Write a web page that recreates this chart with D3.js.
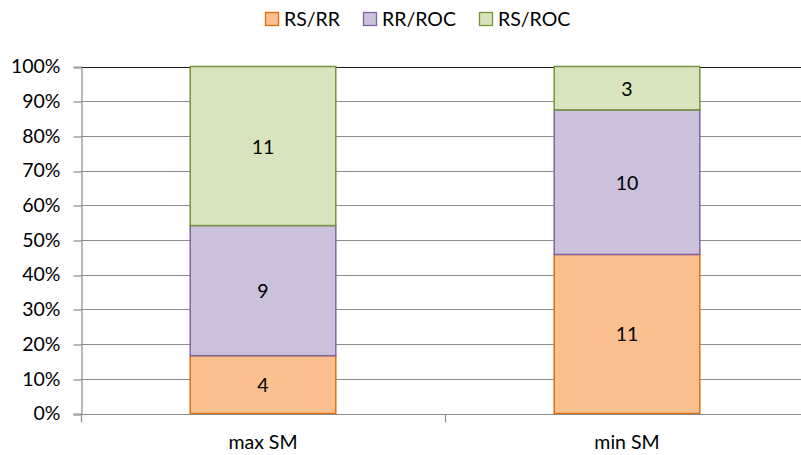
<!DOCTYPE html>
<html>
<head>
<meta charset="utf-8">
<script src="https://cdn.jsdelivr.net/npm/d3@7"></script>
<style>
  body { margin: 0; background: #fff; }
  svg { display: block; font-family: Lato, "Open Sans", sans-serif; }
</style>
</head>
<body>
<div id="chart"></div>
<script>
// data
const categories = ["max SM", "min SM"];
const seriesNames = ["RS/RR", "RR/ROC", "RS/ROC"];
const rsRR  = [4, 11];
const rrROC = [9, 10];
const rsROC = [11, 3];
const yTicks = [0, 0.1, 0.2, 0.3, 0.4, 0.5, 0.6, 0.7, 0.8, 0.9, 1];

const fills   = ["#fac090", "#ccc1da", "#d7e4bd"];
const strokes = ["#e46c0a", "#8064a2", "#77933c"];

const width = 801, height = 455;
const margin = { left: 81, right: -8, top: 66.5, bottom: 455 - 413.5 };
const fs = '19.5px';

const rows = categories.map((c, i) => ({ cat: c, "RS/RR": rsRR[i], "RR/ROC": rrROC[i], "RS/ROC": rsROC[i] }));
const stacked = d3.stack().keys(seriesNames).offset(d3.stackOffsetExpand)(rows);

const svg = d3.select('#chart').append('svg').attr('width', width).attr('height', height);

const x = d3.scaleBand().domain(categories).range([margin.left, width - margin.right]).paddingInner(0.6).paddingOuter(0.3);
const xOuter = d3.scaleBand().domain(categories).range([margin.left, width - margin.right]);
const y = d3.scaleLinear().domain([0, 1]).range([height - margin.bottom, margin.top]);

// gridlines
svg.append('g').selectAll('line').data(yTicks.filter(d => d > 0)).enter().append('line')
    .attr('x1', margin.left).attr('x2', width - margin.right)
    .attr('y1', d => Math.round(y(d)) + 0.5).attr('y2', d => Math.round(y(d)) + 0.5)
    .attr('stroke', d => d === 1 ? '#1a1a1a' : '#8c8c8c').attr('stroke-width', 1.2);

// y axis
const yAxis = svg.append('g').attr('transform', `translate(${margin.left + 0.5},0)`)
    .call(d3.axisLeft(y).tickValues(yTicks).tickFormat(d3.format('.0%')).tickSize(8).tickPadding(13));
yAxis.select('.domain').attr('stroke', '#8c8c8c').attr('stroke-width', 1.2);
yAxis.selectAll('.tick line').attr('stroke', '#8c8c8c').attr('stroke-width', 1.2)
    .attr('transform', function(d) { return `translate(0,${Math.round(y(d)) + 0.5 - y(d)})`; });
yAxis.selectAll('text').attr('font-size', fs).attr('fill', '#000').attr('font-family', 'Lato, sans-serif');

// bars
const layers = svg.append('g').selectAll('g').data(stacked).enter().append('g')
    .attr('fill', (d, i) => fills[i]).attr('stroke', (d, i) => strokes[i]).attr('stroke-width', 1.5);
layers.selectAll('rect').data(d => d).enter().append('rect')
    .attr('x', d => x(d.data.cat)).attr('width', x.bandwidth())
    .attr('y', d => y(d[1])).attr('height', d => y(d[0]) - y(d[1]));

// data labels
stacked.forEach(layer => {
    svg.append('g').selectAll('text').data(layer).enter().append('text')
        .attr('x', d => x(d.data.cat) + x.bandwidth() / 2)
        .attr('y', d => (y(d[0]) + y(d[1])) / 2 + 7.5)
        .attr('text-anchor', 'middle').attr('font-size', fs).attr('fill', '#000')
        .text(d => d.data[layer.key]);
});

// x axis
const xAxisY = Math.round(y(0)) + 0.5;
svg.append('line').attr('x1', margin.left).attr('x2', width - margin.right)
    .attr('y1', xAxisY).attr('y2', xAxisY).attr('stroke', '#8c8c8c').attr('stroke-width', 1.2);
svg.append('g').selectAll('line').data(categories).enter().append('line')
    .attr('x1', d => Math.round(xOuter(d)) + 0.5).attr('x2', d => Math.round(xOuter(d)) + 0.5)
    .attr('y1', xAxisY).attr('y2', xAxisY + 8).attr('stroke', '#8c8c8c').attr('stroke-width', 1.2);
svg.append('g').selectAll('text').data(categories).enter().append('text')
    .attr('x', d => x(d) + x.bandwidth() / 2).attr('y', 449)
    .attr('text-anchor', 'middle').attr('font-size', fs).attr('fill', '#000')
    .text(d => d);

// legend
const legendX = [265, 363, 479];
const lg = svg.append('g').selectAll('g').data(seriesNames).enter().append('g')
    .attr('transform', (d, i) => `translate(${legendX[i]},12)`);
lg.append('rect').attr('x', 0.5).attr('y', 0.5).attr('width', 13).attr('height', 13)
    .attr('fill', (d, i) => fills[i]).attr('stroke', (d, i) => strokes[i]).attr('stroke-width', 1.3);
lg.append('text').attr('x', 19).attr('y', 14).attr('font-size', fs).attr('fill', '#000').text(d => d);
</script>
</body>
</html>
